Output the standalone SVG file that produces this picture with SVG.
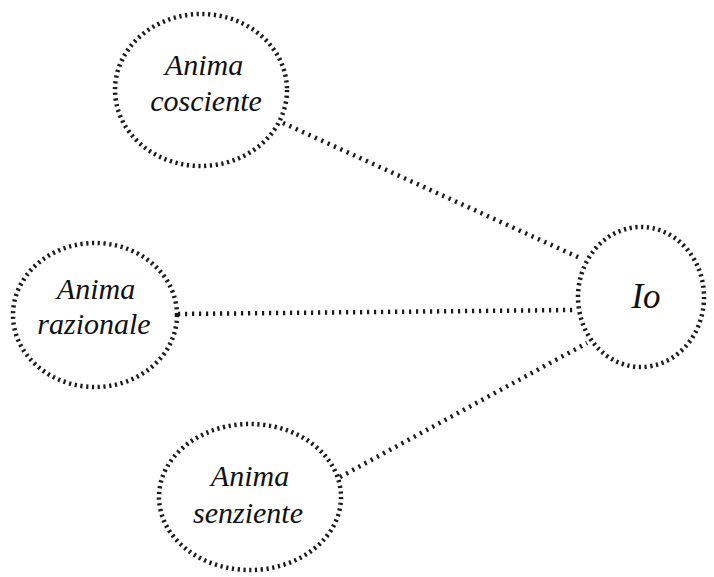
<svg xmlns="http://www.w3.org/2000/svg" width="714" height="577" viewBox="0 0 714 577">
<style>
.b{fill:none;stroke:#1a1a1a;stroke-width:4.5;stroke-dasharray:2.2 3.6;}
.c{fill:none;stroke:#1a1a1a;stroke-width:4.5;stroke-dasharray:2.2 4.8;}
.t{font-family:"Liberation Serif","DejaVu Serif",serif;font-style:italic;font-size:30px;fill:#111;text-anchor:middle;}
</style>
<rect width="714" height="577" fill="#fff"/>
<g id="connectors">
<line class="c" x1="283" y1="123" x2="580" y2="258"/>
<line class="c" x1="178" y1="314" x2="574" y2="310"/>
<line class="c" x1="340" y1="477" x2="587" y2="343"/>
</g>
<g id="cosciente">
<ellipse class="b" cx="201" cy="90" rx="86" ry="76"/>
<text class="t" x="204" y="75">Anima</text>
<text class="t" x="206" y="111">cosciente</text>
</g>
<g id="razionale">
<ellipse class="b" cx="95" cy="315" rx="82" ry="72"/>
<text class="t" x="96" y="299">Anima</text>
<text class="t" x="94" y="334">razionale</text>
</g>
<g id="senziente">
<ellipse class="b" cx="250" cy="497" rx="91" ry="73"/>
<text class="t" x="250" y="486">Anima</text>
<text class="t" x="248" y="523">senziente</text>
</g>
<g id="io">
<ellipse class="b" cx="641" cy="297" rx="63" ry="70"/>
<text class="t" x="646" y="308" style="font-size:35px">Io</text>
</g>
</svg>
